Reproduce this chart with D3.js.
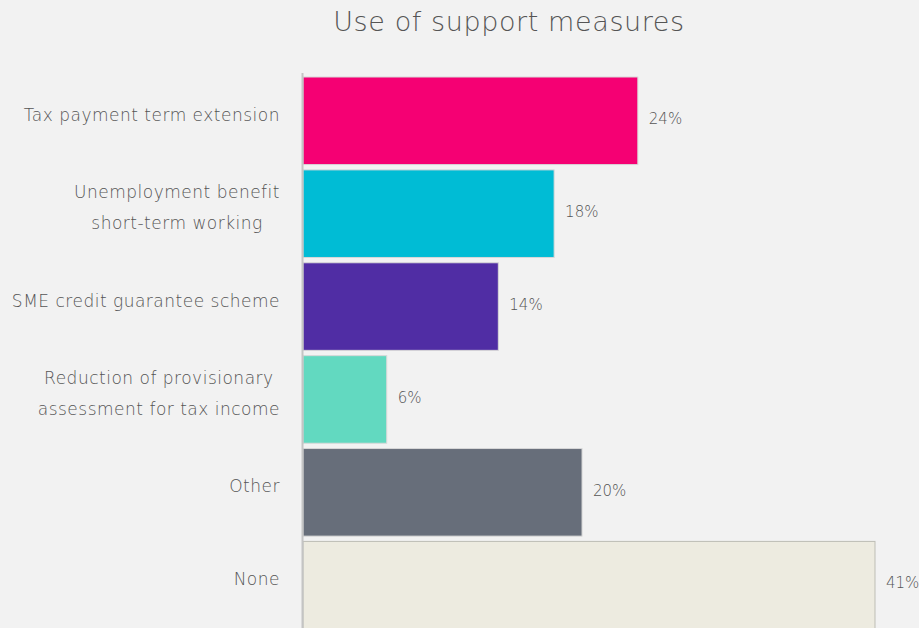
<!DOCTYPE html>
<html>
<head>
<meta charset="utf-8">
<script src="https://cdn.jsdelivr.net/npm/d3@7"></script>
<style>
  html, body { margin: 0; padding: 0; background: #f2f2f2; overflow: hidden; }
  svg { display: block; font-family: "DejaVu Sans", "Noto Sans", sans-serif; }
</style>
</head>
<body>
<svg id="chart" width="919" height="628"></svg>
<script>
// Share of firms using each support measure (%)
const categories = [
  ["Tax payment term extension"],
  ["Unemployment benefit", "short-term working"],
  ["SME credit guarantee scheme"],
  ["Reduction of provisionary ", "assessment for tax income"],
  ["Other"],
  ["None"]
];
const values = [24, 18, 14, 6, 20, 41];
const valueLabels = ["24%", "18%", "14%", "6%", "20%", "41%"];
const colors = ["#f50073", "#00bcd5", "#502da4", "#62d9c0", "#676e7a", "#edebe0"];
const chartTitle = "Use of support measures";

const W = 919, H = 628;
const svg = d3.select("#chart");

const keys = categories.map((c, i) => "c" + i);

const x = d3.scaleLinear().domain([0, 41]).range([303, 875]);
const y = d3.scaleBand().domain(keys).range([77, 629]).paddingInner(0.057).paddingOuter(0);

// Title
svg.append("text")
  .attr("x", 509).attr("y", 31)
  .attr("text-anchor", "middle")
  .attr("font-size", 27)
  .attr("font-weight", 200)
  .attr("letter-spacing", 0.6)
  .attr("fill", "#555")
  .text(chartTitle);

// Bars
svg.append("g").selectAll("rect")
  .data(values)
  .join("rect")
  .attr("x", x(0))
  .attr("y", (d, i) => y(keys[i]))
  .attr("width", d => x(d) - x(0))
  .attr("height", y.bandwidth())
  .attr("fill", (d, i) => colors[i])
  .attr("stroke", (d, i) => i === 5 ? "#bdbdb5" : "#d8d8d8")
  .attr("stroke-width", 1);

// Value labels
svg.append("g").selectAll("text")
  .data(values)
  .join("text")
  .attr("x", d => x(d) + 11)
  .attr("y", (d, i) => y(keys[i]) + y.bandwidth() / 2 - 2)
  .attr("dy", "0.35em")
  .attr("font-size", 15)
  .attr("font-weight", 200)
  .attr("fill", "#555")
  .text((d, i) => valueLabels[i]);

// Category labels: each block right-aligned, lines centred within the block
const labelRight = 280, lineGap = 31;
const catG = svg.append("g")
  .attr("font-size", 17)
  .attr("font-weight", 200)
  .attr("letter-spacing", 0.5)
  .attr("fill", "#555");

categories.forEach((lines, i) => {
  const cy = y(keys[i]) + y.bandwidth() / 2 - 6;
  const g = catG.append("g");
  const texts = lines.map((line, j) =>
    g.append("text")
      .attr("y", cy + (j - (lines.length - 1) / 2) * lineGap)
      .attr("dy", "0.35em")
      .attr("text-anchor", "middle")
      .text(line)
  );
  const maxW = d3.max(texts, t => t.node().getComputedTextLength());
  texts.forEach(t => t.attr("x", labelRight - maxW / 2));
});

// Vertical axis line
svg.append("line")
  .attr("x1", 302.5).attr("x2", 302.5)
  .attr("y1", 73).attr("y2", H)
  .attr("stroke", "#c4c4c4")
  .attr("stroke-width", 2);
</script>
</body>
</html>
